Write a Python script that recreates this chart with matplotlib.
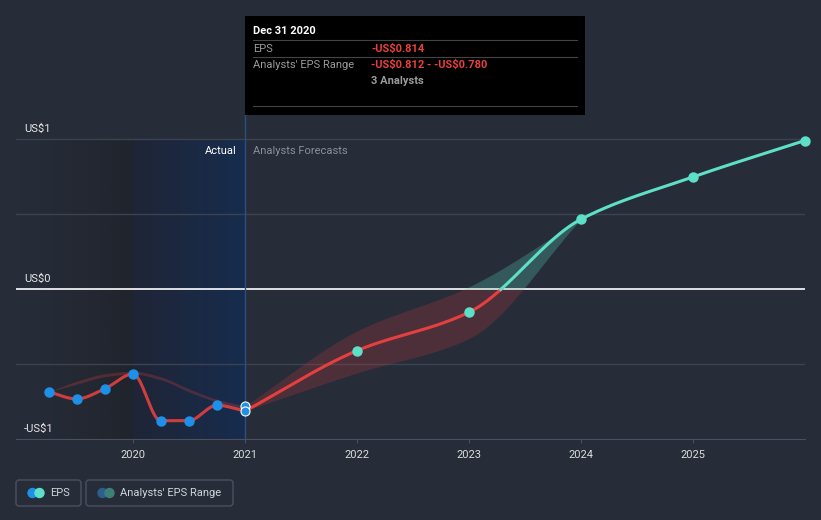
import numpy as np
import matplotlib.pyplot as plt
from matplotlib.patches import Rectangle, FancyBboxPatch, Circle

plt.rcParams['font.family'] = ['Roboto', 'DejaVu Sans']
plt.rcParams['text.parse_math'] = False

# ---- data (US$ per share) ----
past_x = [2019.247, 2019.496, 2019.748, 2020.0, 2020.246, 2020.497, 2020.749, 2021.0]
past_eps = [-0.685, -0.733, -0.665, -0.567, -0.878, -0.878, -0.775, -0.814]
past_hi = [-0.685, -0.615, -0.565, -0.548, -0.585, -0.665, -0.735, -0.780]
past_lo = [-0.685, -0.635, -0.585, -0.568, -0.605, -0.685, -0.755, -0.812]

fc_x = [2021.0, 2022.0, 2023.0, 2024.0, 2025.0, 2026.0]
fc_eps = [-0.814, -0.411, -0.155, 0.465, 0.747, 0.990]
band_x = [2021.0, 2022.0, 2023.0, 2024.0]
band_lo = [-0.812, -0.56, -0.33, 0.465]
band_hi = [-0.780, -0.28, 0.015, 0.465]

xticks = [2020, 2021, 2022, 2023, 2024, 2025]

BG = '#262c38'
RED = '#e5403f'
TEAL = '#5ee0c8'
BLUE = '#1e90e8'
GRID = '#3b4250'


def smooth(x, y, n=400):
    # monotone cubic hermite, only used to draw the curve between the read points
    x = np.asarray(x, float); y = np.asarray(y, float)
    h = np.diff(x); d = np.diff(y) / h
    m = np.zeros_like(y)
    m[0], m[-1] = d[0], d[-1]
    for i in range(1, len(y) - 1):
        if d[i - 1] * d[i] <= 0:
            m[i] = 0
        else:
            w1 = 2 * h[i] + h[i - 1]; w2 = h[i] + 2 * h[i - 1]
            m[i] = (w1 + w2) / (w1 / d[i - 1] + w2 / d[i])
    xs = np.linspace(x[0], x[-1], n)
    k = np.clip(np.searchsorted(x, xs) - 1, 0, len(x) - 2)
    t = (xs - x[k]) / h[k]
    ys = ((2 * t**3 - 3 * t**2 + 1) * y[k] + (t**3 - 2 * t**2 + t) * h[k] * m[k]
          + (-2 * t**3 + 3 * t**2) * y[k + 1] + (t**3 - t**2) * h[k] * m[k + 1])
    return xs, ys


fig = plt.figure(figsize=(8.21, 5.2), dpi=100, facecolor=BG)
ax = fig.add_axes([16 / 821, (520 - 439) / 520, 789 / 821, 439 / 520])
ax.set_facecolor(BG)
x0, x1 = 2026 - 789 / 112, 2026.0

# shaded "actual" area
grad = np.linspace(0, 1, 200)[None, :]
dark = np.zeros((1, 200, 4))
dark[..., :3] = np.array([30, 33, 40]) / 255
dark[..., 3] = grad ** 1.5 * 0.75
ax.imshow(dark, extent=[x0, 2020, -1, 1], aspect='auto', zorder=0, interpolation='bilinear')
blue = np.zeros((1, 200, 4))
c0 = np.array([31, 37, 54]) / 255; c1 = np.array([23, 44, 78]) / 255
blue[..., :3] = c0 + (c1 - c0) * grad[..., None]
blue[..., 3] = 1
ax.imshow(blue, extent=[2020, 2021, -1, 1], aspect='auto', zorder=0, interpolation='bilinear')
ax.set_xlim(x0, x1)
ax.set_ylim(-1, 289 / 150)

for g in [-0.5, 0.5, 1.0]:
    ax.axhline(g, color=GRID, lw=1, zorder=1)
ax.axhline(0, color='white', lw=1.2, zorder=2)
ax.plot([2021, 2021], [-1, 289 / 150 - 115 / 150], color='#2b4f80', lw=1, zorder=2)

# past analyst band
bx, bl = smooth(past_x, past_lo)
_, bh = smooth(past_x, past_hi)
ax.fill_between(bx, bl, bh, color=RED, alpha=0.25, lw=0, zorder=3)

# forecast band, red below zero, teal above
fx, fl = smooth(band_x, band_lo)
_, fh = smooth(band_x, band_hi)
ax.fill_between(fx, np.minimum(fl, 0), np.minimum(fh, 0), color=RED, alpha=0.2, lw=0, zorder=3)
ax.fill_between(fx, np.maximum(fl, 0), np.maximum(fh, 0), color=TEAL, alpha=0.25, lw=0, zorder=3)

# past EPS line
px, py = smooth(past_x, past_eps)
ax.plot(px, py, color=RED, lw=2.2, alpha=0.9, zorder=4, solid_capstyle='round')

# forecast line
lx, ly = smooth(fc_x, fc_eps, 800)
ax.plot(lx, np.ma.masked_where(ly > 0.005, ly), color=RED, lw=2.2, zorder=4)
ax.plot(lx, np.ma.masked_where(ly < -0.005, ly), color=TEAL, lw=2.2, zorder=4)

ax.plot(past_x[:-1], past_eps[:-1], 'o', color=BLUE, ms=6.5, mec=BLUE, zorder=5)
ax.plot([past_x[-1]], [past_hi[-1]], 'o', color=BLUE, ms=6.5, mec='white', mew=0.8, zorder=5)
ax.plot([past_x[-1]], [past_eps[-1]], 'o', color=BLUE, ms=6.5, mec='white', mew=0.8, zorder=6)
ax.plot(fc_x[1:], fc_eps[1:], 'o', color=TEAL, ms=6.5, zorder=5, clip_on=False)

# axes styling
for s in ['top', 'right', 'left']:
    ax.spines[s].set_visible(False)
ax.spines['bottom'].set_color('#4a5060')
ax.set_yticks([])
ax.set_xticks(xticks)
ax.set_xticklabels([str(t) for t in xticks])
ax.tick_params(axis='x', colors='#4a5060', labelcolor='#dcdcdc', labelsize=8, length=3, pad=5)

for val, lab in [(1, 'US$1'), (0, 'US$0'), (-1, '-US$1')]:
    ax.text(x0 + 8 / 112, val + 5 / 150, lab, color='#e8e8e8', fontsize=8, va='bottom', ha='left', zorder=6)

ax.text(2021 - 8 / 112, 1 - 12 / 150, 'Actual', color='white', fontsize=8, ha='right', va='center', zorder=6)
ax.text(2021 + 8 / 112, 1 - 12 / 150, 'Analysts Forecasts', color='#8a9099', fontsize=8, ha='left', va='center', zorder=6)

# overlay in pixel coordinates for tooltip and legend
ov = fig.add_axes([0, 0, 1, 1], facecolor='none')
ov.set_xlim(0, 821)
ov.set_ylim(520, 0)
ov.axis('off')

ov.add_patch(Rectangle((245, 16), 340, 99, facecolor='black', edgecolor='none'))
for yy in [40, 57, 106]:
    ov.plot([253, 577], [yy, yy], color='#444444', lw=0.8)
ov.text(253, 31, 'Dec 31 2020', color='white', fontsize=8, fontweight='bold', va='center')
ov.text(253, 48.5, 'EPS', color='#9a9a9a', fontsize=8, va='center')
ov.text(371, 48.5, '-US$0.814', color='#e8403f', fontsize=8, fontweight='bold', va='center')
ov.text(253, 65, "Analysts' EPS Range", color='#9a9a9a', fontsize=8, va='center')
ov.text(371, 65, '-US$0.812 - -US$0.780', color='#e8403f', fontsize=8, fontweight='bold', va='center')
ov.text(371, 81.5, '3 Analysts', color='#9a9a9a', fontsize=8, fontweight='bold', va='center')

ov.add_patch(FancyBboxPatch((16, 480), 65, 26, boxstyle='round,pad=0,rounding_size=3',
                            facecolor='none', edgecolor='#4a5060', lw=1))
ov.add_patch(FancyBboxPatch((86, 480), 147, 26, boxstyle='round,pad=0,rounding_size=3',
                            facecolor='none', edgecolor='#4a5060', lw=1))
ov.add_patch(Circle((32.5, 493), 4.5, color=BLUE))
ov.add_patch(Circle((39.5, 493), 4.5, color=TEAL))
ov.add_patch(Circle((102.5, 493), 4.5, color='#2d5f8e'))
ov.add_patch(Circle((109.5, 493), 4.5, color='#3e8078'))
ov.text(50, 493, 'EPS', color='#d0d4da', fontsize=8, va='center')
ov.text(120, 493, "Analysts' EPS Range", color='#d0d4da', fontsize=8, va='center')

fig.savefig('out.png', dpi=100, facecolor=BG)
